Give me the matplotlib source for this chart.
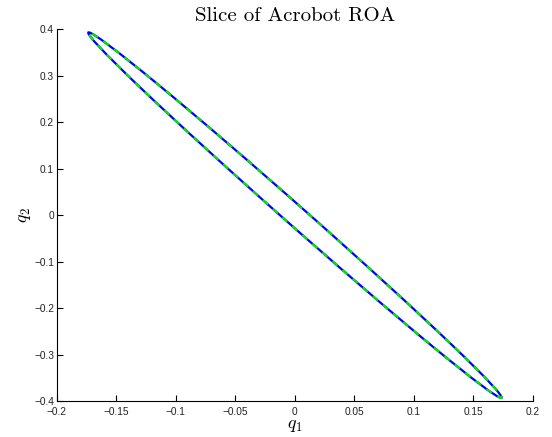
import matplotlib
matplotlib.use('Agg')
import matplotlib.pyplot as plt
import matplotlib.patches as patches

# ellipse slice (data units)
center = (0.0, 0.0)
major_len = 0.859      # full length along the long axis
minor_len = 0.0231     # full width across
tilt_deg = -66.2

x_ticks = [-0.2, -0.15, -0.1, -0.05, 0, 0.05, 0.1, 0.15, 0.2]
y_ticks = [-0.4, -0.3, -0.2, -0.1, 0, 0.1, 0.2, 0.3, 0.4]

plt.rcParams['mathtext.fontset'] = 'cm'
plt.rcParams['font.family'] = ['Liberation Sans', 'DejaVu Sans']

fig = plt.figure(figsize=(5.52, 4.37), dpi=100)
ax = fig.add_axes([0.103, 0.082, 0.8626, 0.8514])

e1 = patches.Ellipse(center, major_len, minor_len, angle=tilt_deg,
                     fill=False, edgecolor=(0, 0, 1), linewidth=1.6)
e2 = patches.Ellipse(center, major_len, minor_len, angle=tilt_deg,
                     fill=False, edgecolor=(0, 0.9, 0), linewidth=1.6,
                     linestyle=(0, (3, 3)))
ax.add_patch(e1)
ax.add_patch(e2)

ax.set_xlim(-0.2, 0.2)
ax.set_ylim(-0.4, 0.4)
ax.set_xticks(x_ticks)
ax.set_yticks(y_ticks)
ax.set_xticklabels(['%g' % t if t >= 0 else '\u2212%g' % -t for t in x_ticks])
ax.set_yticklabels(['%g' % t if t >= 0 else '\u2212%g' % -t for t in y_ticks])
ax.tick_params(direction='in', length=4, width=0.8, labelsize=7.3,
               colors='k', labelcolor='#222222')
ax.tick_params(axis='x', pad=4)
ax.tick_params(axis='y', pad=2)
ax.spines['top'].set_visible(False)
ax.spines['right'].set_visible(False)
for s in ['left', 'bottom']:
    ax.spines[s].set_linewidth(0.8)

ax.set_xlabel('$q_1$', fontsize=13, labelpad=0)
ax.set_ylabel('$q_2$', fontsize=13, labelpad=1)
ax.set_title('Slice of Acrobot ROA', fontfamily='cmr10', fontsize=15,
             pad=6)

fig.savefig('out.png', dpi=100)
